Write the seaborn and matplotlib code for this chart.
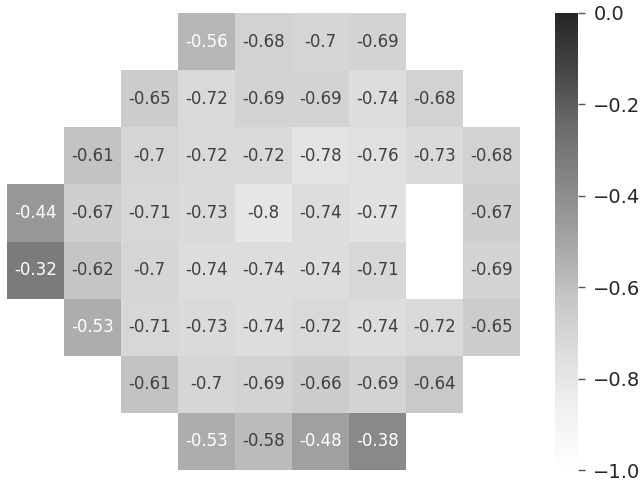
import numpy as np
import pandas as pd
import matplotlib
matplotlib.use("Agg")
import matplotlib.pyplot as plt
import matplotlib.colors as mcolors
import seaborn as sns

nan = np.nan

# Correlation values per grid location (rows top to bottom, columns left to right)
row0 = [nan, nan, nan, -0.56, -0.68, -0.70, -0.69, nan, nan]
row1 = [nan, nan, -0.65, -0.72, -0.69, -0.69, -0.74, -0.68, nan]
row2 = [nan, -0.61, -0.70, -0.72, -0.72, -0.78, -0.76, -0.73, -0.68]
row3 = [-0.44, -0.67, -0.71, -0.73, -0.80, -0.74, -0.77, nan, -0.67]
row4 = [-0.32, -0.62, -0.70, -0.74, -0.74, -0.74, -0.71, nan, -0.69]
row5 = [nan, -0.53, -0.71, -0.73, -0.74, -0.72, -0.74, -0.72, -0.65]
row6 = [nan, nan, -0.61, -0.70, -0.69, -0.66, -0.69, -0.64, nan]
row7 = [nan, nan, nan, -0.53, -0.58, -0.48, -0.38, nan, nan]

cbar_ticks = [0.0, -0.2, -0.4, -0.6, -0.8, -1.0]

grid = pd.DataFrame([row0, row1, row2, row3, row4, row5, row6, row7])

sns.set_style("white")
plt.rcParams["font.family"] = ["DejaVu Sans"]

W, H = 642, 483
fig = plt.figure(figsize=(W / 100, H / 100), dpi=100)
ax = fig.add_axes([7 / W, 13 / H, 513 / W, 457 / H])
cax = fig.add_axes([555 / W, 13 / H, 23 / W, 457 / H])

sns.heatmap(
    grid, ax=ax, cbar_ax=cax, cmap="Greys", vmin=-1, vmax=0, alpha=0.85,
    annot=True, fmt="g", annot_kws={"fontsize": 12},
    xticklabels=False, yticklabels=False,
    cbar_kws={"ticks": cbar_ticks},
)

# soften the dark annotation text a little
for t in ax.texts:
    if mcolors.to_hex(t.get_color()) != "#ffffff":
        t.set_color("#404040")

cbar = ax.collections[0].colorbar
cbar.outline.set_visible(False)
cax.tick_params(labelsize=14, length=5, width=1, color="#555555", pad=6)
cax.yaxis.set_major_formatter(matplotlib.ticker.FuncFormatter(
    lambda v, p: f"{v:.1f}".replace("-", "\u2212")))

fig.savefig("out.png", dpi=100)
